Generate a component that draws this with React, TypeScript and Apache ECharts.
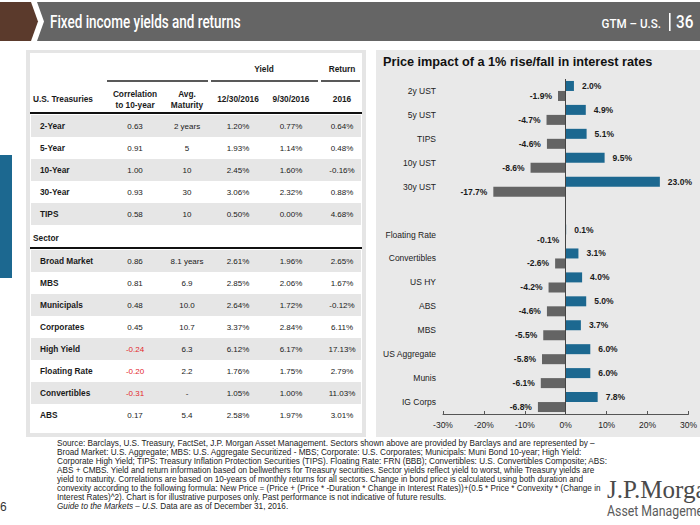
import React, { useEffect, useRef } from 'react';
import * as echarts from 'echarts';

// ---- Chart data ----
const categories = ['2y UST', '5y UST', 'TIPS', '10y UST', '30y UST', ' ', 'Floating Rate', 'Convertibles', 'US HY', 'ABS', 'MBS', 'US Aggregate', 'Munis', 'IG Corps'];
const fallImpact = [2.0, 4.9, 5.1, 9.5, 23.0, null, 0.1, 3.1, 4.0, 5.0, 3.7, 6.0, 6.0, 7.8];
const riseImpact = [-1.9, -4.7, -4.6, -8.6, -17.7, null, -0.1, -2.6, -4.2, -4.6, -5.5, -5.8, -6.1, -6.8];
const axisMin = -30;
const axisMax = 30;
const axisInterval = 10;

// ---- Table data ----
const groupHeaders = ['Yield', 'Return'];
const columnHeaders = ['Correlation\nto 10-year', 'Avg.\nMaturity', '12/30/2016', '9/30/2016', '2016'];
const treasuryNames = ['2-Year', '5-Year', '10-Year', '30-Year', 'TIPS'];
const treasuryCorr = ['0.63', '0.91', '1.00', '0.93', '0.58'];
const treasuryMaturity = ['2 years', '5', '10', '30', '10'];
const treasuryYieldDec = ['1.20%', '1.93%', '2.45%', '3.06%', '0.50%'];
const treasuryYieldSep = ['0.77%', '1.14%', '1.60%', '2.32%', '0.00%'];
const treasuryReturn = ['0.64%', '0.48%', '-0.16%', '0.88%', '4.68%'];

const sectorNames = ['Broad Market', 'MBS', 'Municipals', 'Corporates', 'High Yield', 'Floating Rate', 'Convertibles', 'ABS'];
const sectorCorr = ['0.86', '0.81', '0.48', '0.45', '-0.24', '-0.20', '-0.31', '0.17'];
const sectorMaturity = ['8.1 years', '6.9', '10.0', '10.7', '6.3', '2.2', '-', '5.4'];
const sectorYieldDec = ['2.61%', '2.85%', '2.64%', '3.37%', '6.12%', '1.76%', '1.05%', '2.58%'];
const sectorYieldSep = ['1.96%', '2.06%', '1.72%', '2.84%', '6.17%', '1.75%', '1.00%', '1.97%'];
const sectorReturn = ['2.65%', '1.67%', '-0.12%', '6.11%', '17.13%', '2.79%', '11.03%', '3.01%'];

const footnoteLines = [
  'Source: Barclays, U.S. Treasury, FactSet, J.P. Morgan Asset Management. Sectors shown above are provided by Barclays and are represented by –',
  'Broad Market: U.S. Aggregate; MBS: U.S. Aggregate Securitized - MBS; Corporate: U.S. Corporates; Municipals: Muni Bond 10-year; High Yield:',
  'Corporate High Yield; TIPS: Treasury Inflation Protection Securities (TIPS). Floating Rate: FRN (BBB); Convertibles: U.S. Convertibles Composite; ABS:',
  'ABS + CMBS. Yield and return information based on bellwethers for Treasury securities. Sector yields reflect yield to worst, while Treasury yields are',
  'yield to maturity. Correlations are based on 10-years of monthly returns for all sectors. Change in bond price is calculated using both duration and',
  'convexity according to the following formula: New Price = (Price + (Price * -Duration * Change in Interest Rates))+(0.5 * Price * Convexity * (Change in',
  'Interest Rates)^2). Chart is for illustrative purposes only. Past performance is not indicative of future results.',
];
const footnoteItalic = 'Guide to the Markets – U.S.';
const footnoteLast = ' Data are as of December 31, 2016.';

const BLUE = '#1c6890';
const GRAY = '#646464';
const FONT = '"Liberation Sans", Arial, Helvetica, sans-serif';
const COND = 'Roboto, "Open Sans", "Liberation Sans", sans-serif';

function txt(x: number, y: number, text: string, o: any = {}) {
  return {
    type: 'text',
    x,
    y,
    z: 5,
    scaleX: o.scaleX || 1,
    silent: true,
    style: {
      text,
      fill: o.fill || '#1a1a1a',
      fontSize: o.fontSize || 8,
      fontWeight: o.fontWeight || 'normal',
      fontStyle: o.fontStyle || 'normal',
      fontFamily: o.fontFamily || FONT,
      align: o.align || 'center',
      verticalAlign: o.verticalAlign || 'middle',
      lineHeight: o.lineHeight,
      rich: o.rich,
    },
  };
}

function buildGraphics() {
  const g: any[] = [];
  // header
  g.push({ type: 'polygon', z: 0, silent: true, shape: { points: [[0, 2], [31, 2], [38, 21.5], [31, 41], [0, 41]] }, style: { fill: '#5b3a2c' } });
  g.push({ type: 'polygon', z: 0, silent: true, shape: { points: [[37, 2], [700, 2], [700, 41], [37, 41], [44, 21.5]] }, style: { fill: '#656565' } });
  g.push(txt(50, 22, 'Fixed income yields and returns', { fill: '#fff', fontSize: 17.5, fontWeight: 500, fontFamily: COND, align: 'left', scaleX: 0.77 }));
  g.push(txt(661, 23, 'GTM – U.S.', { fill: '#fff', fontSize: 13.5, fontWeight: 500, fontFamily: COND, align: 'right', scaleX: 0.86 }));
  g.push({ type: 'rect', z: 1, silent: true, shape: { x: 669, y: 13, width: 1.6, height: 18 }, style: { fill: '#fff' } });
  g.push(txt(676, 22, '36', { fill: '#fff', fontSize: 18, fontWeight: 500, fontFamily: COND, align: 'left', scaleX: 0.85 }));

  // left blue tab
  g.push({ type: 'rect', z: 0, silent: true, shape: { x: 0, y: 155, width: 12, height: 123 }, style: { fill: BLUE } });

  // panels
  g.push({ type: 'rect', z: -10, silent: true, shape: { x: 26, y: 50, width: 340, height: 387 }, style: { fill: '#e5e5e5' } });
  g.push({ type: 'rect', z: -9, silent: true, shape: { x: 30, y: 53, width: 332, height: 380 }, style: { fill: '#ffffff' } });
  g.push({ type: 'rect', z: -10, silent: true, shape: { x: 376, y: 50, width: 324, height: 387 }, style: { fill: '#e9e9e9' } });

  // table
  const colX = [135, 187, 238, 291, 342];
  g.push(txt(264, 69, groupHeaders[0], { fontWeight: 'bold', fontSize: 8.3 }));
  g.push(txt(342, 69, groupHeaders[1], { fontWeight: 'bold', fontSize: 8.3 }));
  [[107, 208], [211, 318], [321, 360]].forEach(([a, b]) => {
    g.push({ type: 'line', z: 2, silent: true, shape: { x1: a, y1: 81, x2: b, y2: 81 }, style: { stroke: '#222', lineWidth: 1.3 } });
  });
  g.push(txt(33, 99, 'U.S. Treasuries', { fontWeight: 'bold', fontSize: 8.3, align: 'left' }));
  columnHeaders.forEach((h, i) => {
    g.push(txt(colX[i], 99, h, { fontWeight: 'bold', fontSize: 8.3, lineHeight: 11 }));
  });
  g.push({ type: 'line', z: 2, silent: true, shape: { x1: 30, y1: 113, x2: 362, y2: 113 }, style: { stroke: '#111', lineWidth: 2 } });

  const bandColor = '#e6e6e6';
  const addRows = (names: string[], cols: string[][], y0: number) => {
    names.forEach((n, i) => {
      const y = y0 + i * 22;
      if (i % 2 === 0) {
        g.push({ type: 'rect', z: -5, silent: true, shape: { x: 31, y: y - 11, width: 330, height: 22 }, style: { fill: bandColor } });
      }
      g.push(txt(40, y, n, { fontWeight: 'bold', fontSize: 8.3, align: 'left' }));
      cols.forEach((c, j) => {
        const v = c[i];
        const red = j === 0 && v.startsWith('-');
        g.push(txt(colX[j], y, v, { fontSize: 8, fill: red ? '#e3262b' : '#1a1a1a' }));
      });
    });
  };
  addRows(treasuryNames, [treasuryCorr, treasuryMaturity, treasuryYieldDec, treasuryYieldSep, treasuryReturn], 126);
  g.push(txt(33, 238, 'Sector', { fontWeight: 'bold', fontSize: 8.3, align: 'left' }));
  g.push({ type: 'line', z: 2, silent: true, shape: { x1: 30, y1: 248, x2: 362, y2: 248 }, style: { stroke: '#111', lineWidth: 2 } });
  addRows(sectorNames, [sectorCorr, sectorMaturity, sectorYieldDec, sectorYieldSep, sectorReturn], 261);

  // chart title
  g.push(txt(383, 62, 'Price impact of a 1% rise/fall in interest rates', { fontWeight: 'bold', fontSize: 12.7, align: 'left', fill: '#111' }));

  // footnotes
  footnoteLines.forEach((l, i) => {
    g.push(txt(57, 443 + i * 9.1, l, { fontSize: 8.2, align: 'left', fill: '#222' }));
  });
  g.push(txt(57, 443 + 7 * 9.1, `{i|${footnoteItalic}}${footnoteLast}`, {
    fontSize: 8.2, align: 'left', fill: '#222',
    rich: { i: { fontStyle: 'italic', fontSize: 8.2, fontFamily: FONT, fill: '#222' } },
  }));
  g.push(txt(0, 507, '6', { fontSize: 12, align: 'left', fill: '#333' }));

  // logo
  g.push(txt(607, 489, 'J.P.Morgan', { fontSize: 25, align: 'left', fill: '#4a4a4a', fontFamily: '"Liberation Serif", "DejaVu Serif", serif' }));
  g.push(txt(607, 511, 'Asset Management', { fontSize: 14.5, align: 'left', fill: '#5a5a5a', fontFamily: COND, scaleX: 0.85 }));
  return g;
}

export default function App() {
  const ref = useRef<HTMLDivElement>(null);
  useEffect(() => {
    document.body.style.margin = '0';
    const chart = echarts.init(ref.current!, null, { renderer: 'svg', width: 700, height: 525 });
    const labelFmt = (p: any) => (p.value == null ? '' : `${Number(p.value).toFixed(1)}%`);
    chart.setOption({
      animation: false,
      backgroundColor: '#ffffff',
      textStyle: { fontFamily: FONT },
      grid: { left: 443, right: 7, top: 79, bottom: 111, containLabel: false },
      xAxis: {
        type: 'value',
        min: axisMin,
        max: axisMax,
        interval: axisInterval,
        axisLine: { show: true, onZero: false, lineStyle: { color: '#555', width: 1 } },
        axisTick: { show: true, inside: true, length: 3, lineStyle: { color: '#555' } },
        splitLine: { show: false },
        axisLabel: { formatter: '{value}%', fontSize: 8.5, color: '#222', margin: 6, fontFamily: FONT },
      },
      yAxis: {
        type: 'category',
        data: categories,
        inverse: true,
        axisLine: { show: false, onZero: false },
        axisTick: { show: false },
        axisLabel: { fontSize: 8.5, color: '#222', margin: 7, fontFamily: FONT },
      },
      series: [
        {
          name: 'Fall in rates',
          type: 'bar',
          data: fallImpact,
          barWidth: 10,
          barGap: '0%',
          itemStyle: { color: BLUE },
          label: { show: true, position: 'right', distance: 8, formatter: labelFmt, fontSize: 8.5, fontWeight: 'bold', color: '#1a1a1a', fontFamily: FONT },
          markLine: {
            silent: true,
            symbol: 'none',
            label: { show: false },
            lineStyle: { color: '#444', width: 1, type: 'solid' },
            data: [{ xAxis: 0 }],
          },
        },
        {
          name: 'Rise in rates',
          type: 'bar',
          data: riseImpact,
          barWidth: 10,
          barGap: '0%',
          itemStyle: { color: GRAY },
          label: { show: true, position: 'left', distance: 6, formatter: labelFmt, fontSize: 8.5, fontWeight: 'bold', color: '#1a1a1a', fontFamily: FONT },
        },
      ],
      graphic: buildGraphics(),
    });
    return () => chart.dispose();
  }, []);
  return <div ref={ref} style={{ width: 700, height: 525 }} />;
}
